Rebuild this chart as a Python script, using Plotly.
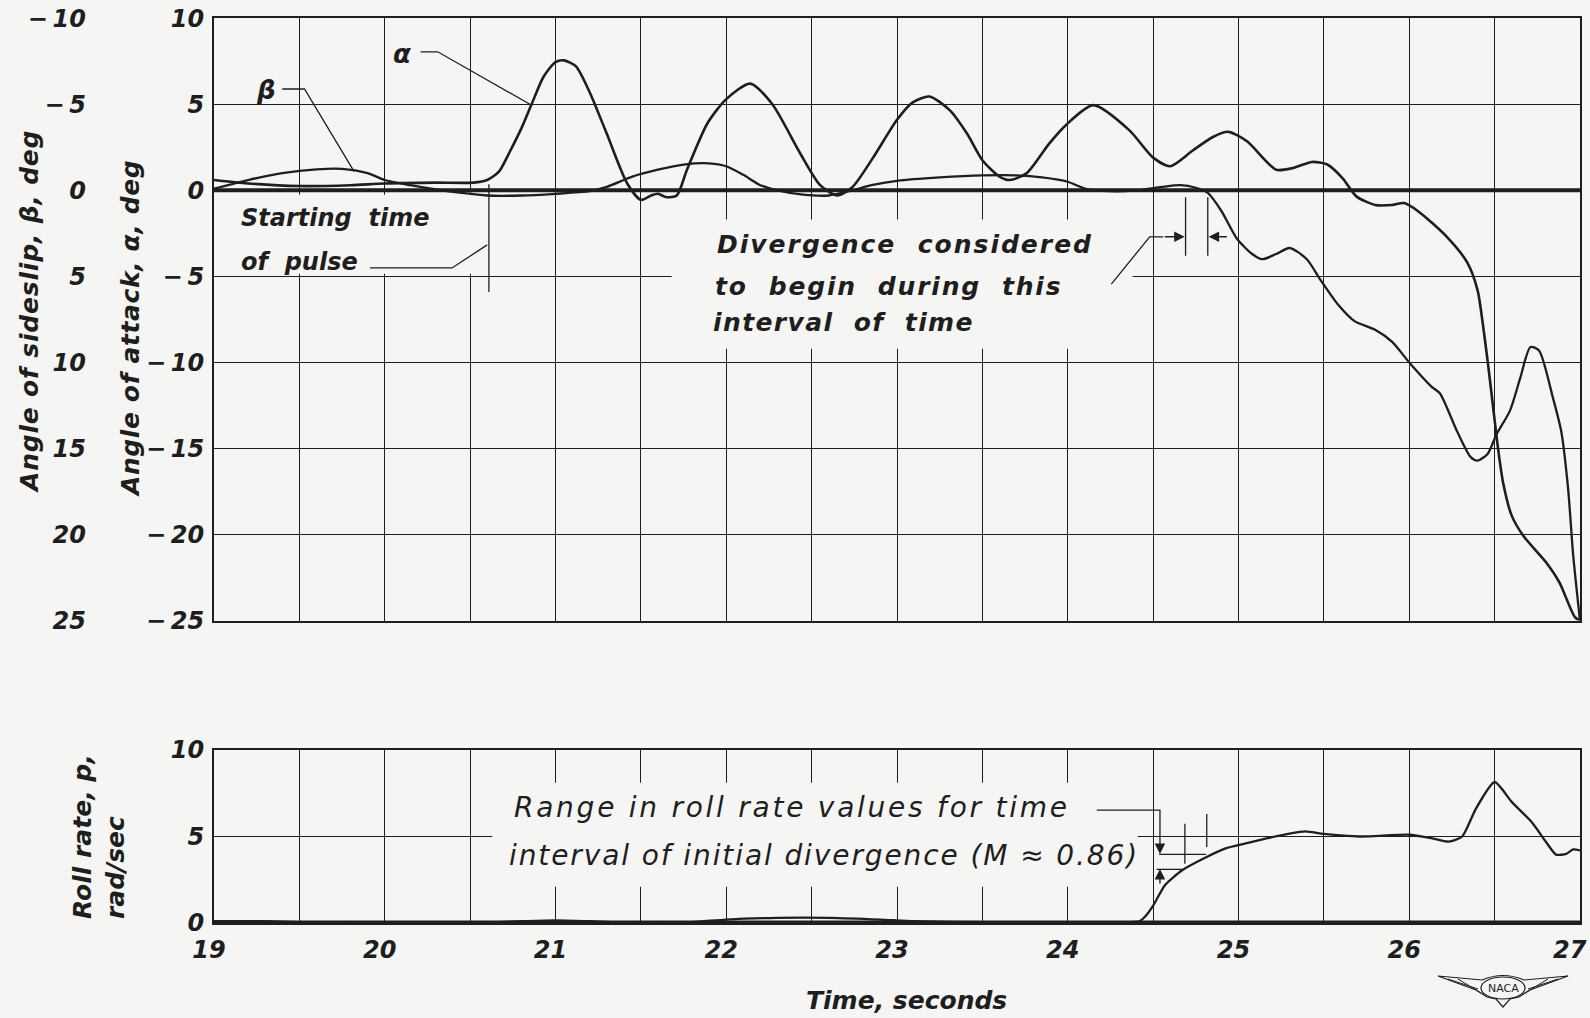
import json
import plotly.graph_objects as go

# ---------------------------------------------------------------------------
# Time histories (t in seconds)
# ---------------------------------------------------------------------------
t_alpha = [19.0, 19.2, 19.5, 19.8, 20.0, 20.3, 20.52, 20.6, 20.67, 20.73,
           20.8, 20.86, 20.93, 21.0, 21.05, 21.12, 21.2, 21.3, 21.42, 21.5,
           21.56, 21.6, 21.65, 21.71, 21.77, 21.89, 22.0, 22.14, 22.27, 22.43,
           22.55, 22.65, 22.74, 22.86, 23.0, 23.09, 23.19, 23.31, 23.41, 23.5,
           23.6, 23.66, 23.76, 23.89, 23.99, 24.15, 24.36, 24.5, 24.6, 24.73,
           24.85, 24.94, 25.05, 25.22, 25.32, 25.43, 25.52, 25.61, 25.69, 25.8,
           25.9, 25.97, 26.05, 26.22, 26.34, 26.4, 26.43, 26.46, 26.49, 26.52,
           26.55, 26.6, 26.67, 26.8, 26.88, 26.97, 27.0]
alpha = [0.6, 0.4, 0.25, 0.3, 0.4, 0.45, 0.45, 0.6, 1.1, 2.2,
         3.6, 5.0, 6.6, 7.45, 7.55, 7.2, 5.7, 3.3, 0.4, -0.55,
         -0.3, -0.2, -0.4, -0.3, 1.2, 3.9, 5.3, 6.2, 5.0, 2.2,
         0.3, -0.3, 0.2, 1.9, 4.1, 5.1, 5.45, 4.65, 3.3, 1.75,
         0.8, 0.6, 1.0, 2.7, 3.8, 4.95, 3.5, 1.9, 1.4, 2.3,
         3.1, 3.4, 2.85, 1.2, 1.3, 1.65, 1.5, 0.7, -0.35, -0.85,
         -0.85, -0.74, -1.2, -2.7, -4.2, -5.8, -7.7, -10.0, -12.5, -15.0,
         -17.0, -18.9, -20.1, -21.6, -22.8, -24.8, -25.0]

t_beta = [19.0, 19.2, 19.4, 19.6, 19.75, 19.9, 20.0, 20.15, 20.3, 20.45,
          20.6, 20.8, 21.0, 21.2, 21.3, 21.45, 21.6, 21.75, 21.9, 22.0,
          22.1, 22.2, 22.3, 22.45, 22.6, 22.74, 22.85, 23.0, 23.25, 23.5,
          23.7, 23.85, 24.0, 24.1, 24.25, 24.4, 24.55, 24.66, 24.75, 24.82,
          24.9, 24.99, 25.08, 25.14, 25.22, 25.3, 25.4, 25.48, 25.58, 25.68,
          25.8, 25.9, 26.0, 26.13, 26.18, 26.28, 26.36, 26.4, 26.46, 26.51,
          26.59, 26.65, 26.71, 26.76, 26.84, 26.89, 26.93, 26.96, 27.0]
beta = [-0.1, -0.6, -1.0, -1.22, -1.25, -1.0, -0.6, -0.3, -0.05, 0.15,
        0.3, 0.3, 0.2, 0.05, -0.2, -0.8, -1.2, -1.5, -1.57, -1.4,
        -0.9, -0.3, 0.0, 0.25, 0.3, 0.0, -0.3, -0.55, -0.75, -0.87,
        -0.87, -0.75, -0.5, -0.1, 0.05, 0.0, -0.2, -0.3, -0.15, 0.15,
        1.2, 2.8, 3.7, 4.0, 3.7, 3.35, 4.0, 5.2, 6.6, 7.6,
        8.1, 8.8, 10.0, 11.4, 11.8, 14.0, 15.5, 15.7, 15.3, 14.2,
        12.8, 10.9, 9.1, 9.3, 12.0, 14.0, 17.3, 21.2, 25.0]

t_p = [19.0, 19.3, 19.5, 19.8, 20.2, 20.5, 20.8, 21.0, 21.2, 21.5,
       21.8, 22.0, 22.3, 22.6, 22.9, 23.1, 23.5, 24.0, 24.3, 24.42,
       24.46, 24.5, 24.57, 24.67, 24.79, 24.92, 25.0, 25.17, 25.29, 25.39,
       25.5, 25.71, 26.0, 26.13, 26.23, 26.31, 26.39, 26.5, 26.6, 26.72,
       26.8, 26.86, 26.92, 26.96, 27.0]
p = [0.1, 0.1, 0.05, 0.0, 0.0, 0.0, 0.1, 0.15, 0.1, 0.0,
     0.05, 0.2, 0.3, 0.3, 0.2, 0.1, 0.05, 0.05, 0.05, 0.1,
     0.45, 1.0, 2.2, 3.05, 3.7, 4.3, 4.5, 4.9, 5.15, 5.3,
     5.15, 5.0, 5.1, 4.9, 4.7, 5.0, 6.6, 8.15, 7.0, 5.8,
     4.7, 3.95, 4.0, 4.25, 4.2]

# the last time label sits on the page edge and is lettered separately
time_ticks = [19, 20, 21, 22, 23, 24, 25, 26]
last_time_label = "27"
TS = "\u2009"  # thin space after the minus sign
alpha_ticks = [10, 5, 0, -5, -10, -15, -20, -25]
alpha_labels = ["10", "5", "0", "−" + TS + "5", "−" + TS + "10", "−" + TS + "15",
                "−" + TS + "20", "−" + TS + "25"]
beta_ticks = [-10, -5, 0, 5, 10, 15, 20, 25]
beta_labels = ["−" + TS + "10", "−" + TS + "5", "0", "5", "10", "15", "20", "25"]
p_ticks = [0, 5, 10]

# ---------------------------------------------------------------------------
# Page geometry and styling
# ---------------------------------------------------------------------------
W, H = 1590, 1018
INK = "#1e1e1e"
PAPER = "#f5f5f3"
FONT = "DejaVu Sans"


def px(x):
    return x / W


def py(y):
    return 1 - y / H


def ifont(size, bold=False):
    return dict(family=FONT, size=size, color=INK, style="italic",
                weight="bold" if bold else "normal")


X_DOM = [px(214), px(1580)]
TOP_DOM = [py(620.6), py(18.25)]
BOT_DOM = [py(923), py(750)]

fig = go.Figure()

# heavy reference (zero) traces
fig.add_trace(go.Scatter(x=[19, 27], y=[0, 0], mode="lines", xaxis="x", yaxis="y",
                         line=dict(color=INK, width=4), hoverinfo="skip"))
fig.add_trace(go.Scatter(x=[19, 27], y=[0, 0], mode="lines", xaxis="x2", yaxis="y3",
                         line=dict(color=INK, width=5), hoverinfo="skip"))

# angle of attack and sideslip records
fig.add_trace(go.Scatter(x=t_alpha, y=alpha, mode="lines", name="α", xaxis="x", yaxis="y",
                         line=dict(color=INK, width=2.6, shape="spline", smoothing=0.7)))
fig.add_trace(go.Scatter(x=t_beta, y=beta, mode="lines", name="β", xaxis="x", yaxis="y2",
                         line=dict(color=INK, width=2.3, shape="spline", smoothing=0.7)))
# roll rate record
fig.add_trace(go.Scatter(x=t_p, y=p, mode="lines", name="p", xaxis="x2", yaxis="y3",
                         line=dict(color=INK, width=2.3, shape="spline", smoothing=0.6)))

grid = dict(showgrid=True, gridcolor=INK, gridwidth=1.4)
frame = dict(showline=True, mirror=True, linecolor=INK, linewidth=2)

fig.update_layout(
    width=W, height=H,
    margin=dict(l=0, r=0, t=0, b=0, pad=0, autoexpand=False),
    paper_bgcolor=PAPER, plot_bgcolor=PAPER,
    showlegend=False,
    xaxis=dict(domain=X_DOM, range=[19, 27], anchor="y", dtick=0.5, tick0=19,
               showticklabels=False, ticks="", zeroline=False, automargin=False,
               **grid, **frame),
    yaxis=dict(domain=TOP_DOM, range=[-25, 10], anchor="x", tickvals=alpha_ticks,
               ticktext=alpha_labels, ticks="", ticklabelstandoff=3,
               tickfont=ifont(24, True), zeroline=False, automargin=False,
               **grid, **frame),
    yaxis2=dict(overlaying="y", anchor="free", position=px(86), side="left",
                range=[25, -10], tickvals=beta_ticks, ticktext=beta_labels, ticks="",
                tickfont=ifont(24, True), showgrid=False, zeroline=False,
                showline=False, automargin=False),
    xaxis2=dict(domain=X_DOM, range=[19, 27], anchor="y3", tickvals=time_ticks,
                ticks="", ticklabelstandoff=4, ticklabelshift=-5, tickfont=ifont(24, True),
                minor=dict(dtick=0.5, tick0=19, showgrid=True, gridcolor=INK, gridwidth=1.4),
                zeroline=False, automargin=False, **grid, **frame),
    yaxis3=dict(domain=BOT_DOM, range=[0, 10], anchor="x2", tickvals=p_ticks,
                ticks="", ticklabelstandoff=3, tickfont=ifont(24, True),
                zeroline=False, automargin=False, **grid, **frame),
)

shapes = []

# clear the grid behind the lettering
for xr, yr, x0, x1, y0, y1 in [
    ("x", "y", 19.2, 20.56, -0.25, -4.85),
    ("x", "y", 21.68, 24.38, -1.7, -9.2),
    ("x2", "y3", 20.63, 24.41, 2.1, 8.1),
]:
    shapes.append(dict(type="rect", xref=xr, yref=yr, x0=x0, x1=x1, y0=y0, y1=y1,
                       fillcolor=PAPER, line=dict(width=0), layer="between"))


def leader(xref, yref, pts, width=1.3):
    d = "M " + " L ".join(f"{x},{y}" for x, y in pts)
    return dict(type="path", xref=xref, yref=yref, path=d,
                line=dict(color=INK, width=width), layer="above")


# label leaders
shapes.append(leader("x", "y", [(20.21, 8.05), (20.31, 8.05), (20.85, 5.0)]))
shapes.append(leader("x", "y", [(19.40, 5.89), (19.53, 5.89), (19.82, 1.1)]))
shapes.append(leader("x", "y", [(19.914, -4.51), (20.394, -4.51), (20.60, -3.17)]))
# pulse start marker
shapes.append(leader("x", "y", [(20.61, 0.35), (20.61, -5.9)]))
# divergence interval
shapes.append(leader("x", "y", [(24.69, -0.4), (24.69, -3.8)]))
shapes.append(leader("x", "y", [(24.82, -0.4), (24.82, -3.8)]))
shapes.append(leader("x", "y", [(24.255, -5.45), (24.48, -2.7), (24.56, -2.7)]))
# roll-rate range markers
shapes.append(leader("x2", "y3", [(24.17, 6.53), (24.54, 6.53), (24.54, 4.6)]))
shapes.append(leader("x2", "y3", [(24.535, 3.97), (24.81, 3.97)]))
shapes.append(leader("x2", "y3", [(24.52, 3.1), (24.67, 3.1)]))
shapes.append(leader("x2", "y3", [(24.686, 5.74), (24.686, 3.43)]))
shapes.append(leader("x2", "y3", [(24.814, 6.3), (24.814, 4.4)]))


# NACA wing emblem (pixel outline converted to page fractions)
def page_path(cmds):
    out = []
    for c in cmds:
        if isinstance(c, str):
            out.append(c)
        else:
            out.append(f"{px(c[0]):.5f},{py(c[1]):.5f}")
    return " ".join(out)


emblem = page_path(["M", (1438, 976), "L", (1482, 980), "Q", (1503, 971), (1524, 980),
                    "L", (1568, 976), "L", (1530, 990), "L", (1519, 997), "L", (1510, 999),
                    "L", (1503, 1007), "L", (1496, 999), "L", (1487, 997), "L", (1476, 990), "Z"])
shapes.append(dict(type="path", xref="paper", yref="paper", path=emblem,
                   line=dict(color=INK, width=1.2), fillcolor=PAPER, layer="above"))
for a, b in [((1448, 979), (1478, 989)), ((1458, 979), (1481, 993)),
             ((1558, 979), (1528, 989)), ((1548, 979), (1525, 993))]:
    shapes.append(dict(type="line", xref="paper", yref="paper",
                       x0=px(a[0]), y0=py(a[1]), x1=px(b[0]), y1=py(b[1]),
                       line=dict(color=INK, width=1), layer="above"))
shapes.append(dict(type="circle", xref="paper", yref="paper",
                   x0=px(1481), x1=px(1525), y0=py(999), y1=py(977),
                   line=dict(color=INK, width=1.2), fillcolor=PAPER, layer="above"))

fig.update_layout(shapes=shapes)

annotations = []
# extra tracking (px) for the hand-lettered notes
tracking = {}


def note(text, x, y, xref, yref, size, bold=False, xanchor="left", angle=0,
         align="left", spacing=None):
    annotations.append(dict(text=text, x=x, y=y, xref=xref, yref=yref, showarrow=False,
                            xanchor=xanchor, yanchor="middle", textangle=angle,
                            align=align, font=ifont(size, bold)))
    if spacing:
        tracking[text] = spacing


NB = "\u00a0"
note("α", 20.10, 7.9, "x", "y", 26, True, xanchor="center")
note("β", 19.305, 5.84, "x", "y", 26, True, xanchor="center")
note("Starting" + NB + " time", 19.146, -1.6, "x", "y", 24, True)
note("of" + NB + " pulse", 19.146, -4.16, "x", "y", 24, True)
note("Divergence" + NB + " considered", 21.934, -3.17, "x", "y", 25, True, spacing=2.0)
note("to" + NB + " begin" + NB + " during" + NB + " this", 21.922, -5.61, "x", "y", 25, True,
     spacing=1.8)
note("interval" + NB + " of" + NB + " time", 21.911, -7.65, "x", "y", 25, True, spacing=1.4)
note("Range in roll rate values for time", 20.745, 6.65, "x2", "y3", 28, spacing=2.75)
note("interval of initial divergence (M ≈ 0.86)", 20.716, 3.93, "x2", "y3", 28, spacing=1.9)

# axis titles
note("Angle of sideslip, β, deg", px(29), py(322), "paper", "paper", 25, True,
     xanchor="center", angle=-90, spacing=0.8)
note("Angle of attack, α, deg", px(130), py(335), "paper", "paper", 25, True,
     xanchor="center", angle=-90, spacing=0.6)
note("Roll rate, p,<br>rad/sec", px(99), py(837), "paper", "paper", 25, True,
     xanchor="center", angle=-90, align="left")
note("Time, seconds", px(906), py(1000), "paper", "paper", 25, True, xanchor="center")
note(last_time_label, px(1589), py(950), "paper", "paper", 24, True, xanchor="right")
annotations.append(dict(text="NACA", x=px(1503), y=py(988), xref="paper", yref="paper",
                        showarrow=False, xanchor="center", yanchor="middle",
                        font=dict(family=FONT, size=11, color=INK)))


def arrow(x, y, ax, ay, xref, yref):
    annotations.append(dict(text="", x=x, y=y, ax=ax, ay=ay, xref=xref, yref=yref,
                            axref=xref, ayref=yref, showarrow=True, arrowhead=2,
                            arrowsize=1.5, arrowwidth=1.4, arrowcolor=INK, standoff=0))


arrow(24.685, -2.7, 24.56, -2.7, "x", "y")
arrow(24.825, -2.7, 24.94, -2.7, "x", "y")
arrow(24.54, 3.99, 24.54, 4.7, "x2", "y3")
arrow(24.54, 3.12, 24.54, 2.2, "x2", "y3")

fig.update_layout(annotations=annotations)

# widen the letter spacing of the lettered notes once the figure is drawn
spacing_js = (
    "var sp = " + json.dumps(tracking) + ";"
    "document.querySelectorAll('#chart text.annotation-text').forEach(function (t) {"
    "  var s = sp[t.textContent];"
    "  if (s !== undefined) { t.style.letterSpacing = s + 'px'; }"
    "});"
)

fig.write_html("out.html", div_id="chart", post_script=spacing_js)
